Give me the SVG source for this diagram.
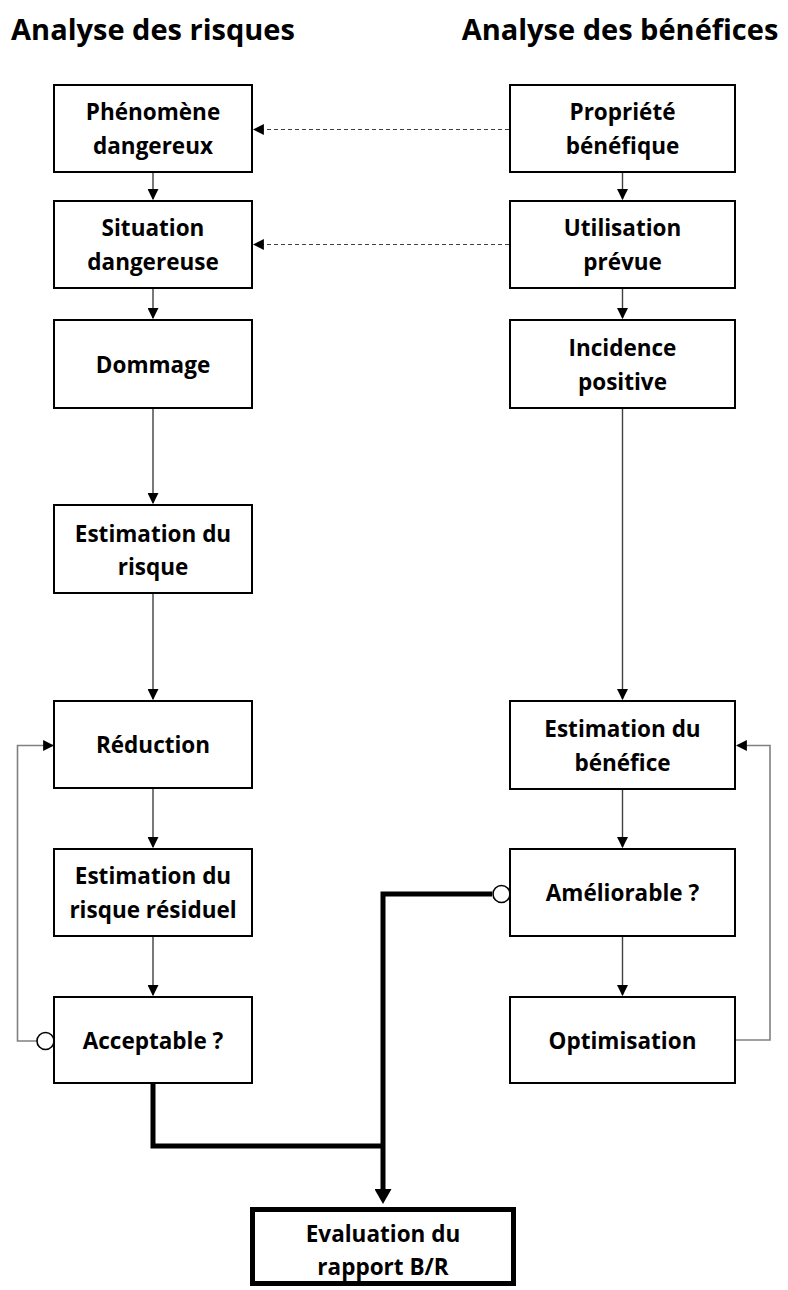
<svg xmlns="http://www.w3.org/2000/svg" width="788" height="1290" viewBox="0 0 788 1290">
<style>
.box{fill:#fff;stroke:#000;stroke-width:2}
.boxb{fill:#fff;stroke:#000;stroke-width:5}
.t{font-family:"Open Sans","Liberation Sans",sans-serif;font-weight:700;font-size:22.5px;fill:#000;text-anchor:middle}
.h{font-family:"Open Sans","Liberation Sans",sans-serif;font-weight:700;font-size:29px;fill:#000;text-anchor:middle}
.c{fill:none;stroke:#404040;stroke-width:1.4}
.loop{fill:none;stroke:#808080;stroke-width:1.6}
.dash{fill:none;stroke:#404040;stroke-width:1.2;stroke-dasharray:4 3}
.thick{fill:none;stroke:#000;stroke-width:5}
.circ{fill:#fff;stroke:#000;stroke-width:1.6}
</style>
<defs>
<marker id="a" viewBox="0 0 10 10" refX="9" refY="5" markerWidth="11" markerHeight="11" markerUnits="userSpaceOnUse" orient="auto">
<path d="M0,0 L10,5 L0,10 z" fill="#000"/>
</marker>
<marker id="ab" viewBox="0 0 15 17" refX="5" refY="8.5" markerWidth="15" markerHeight="17" markerUnits="userSpaceOnUse" orient="auto">
<path d="M0,0 L15,8.5 L0,17 z" fill="#000"/>
</marker>
</defs>
<rect width="788" height="1290" fill="#fff"/>
<g id="headers">
<text class="h" x="153" y="40">Analyse des risques</text>
<text class="h" x="620" y="40">Analyse des bénéfices</text>
</g>
<g id="connectors">
<line class="c" x1="153" y1="173" x2="153" y2="199" marker-end="url(#a)"/>
<line class="c" x1="153" y1="289" x2="153" y2="318" marker-end="url(#a)"/>
<line class="c" x1="153" y1="409" x2="153" y2="503" marker-end="url(#a)"/>
<line class="c" x1="153" y1="594" x2="153" y2="699" marker-end="url(#a)"/>
<line class="c" x1="153" y1="789" x2="153" y2="847" marker-end="url(#a)"/>
<line class="c" x1="153" y1="937" x2="153" y2="995" marker-end="url(#a)"/>
<line class="c" x1="622.5" y1="173" x2="622.5" y2="199" marker-end="url(#a)"/>
<line class="c" x1="622.5" y1="289" x2="622.5" y2="318" marker-end="url(#a)"/>
<line class="c" x1="622.5" y1="409" x2="622.5" y2="699" marker-end="url(#a)"/>
<line class="c" x1="622.5" y1="790" x2="622.5" y2="847" marker-end="url(#a)"/>
<line class="c" x1="622.5" y1="937" x2="622.5" y2="995" marker-end="url(#a)"/>
<line class="dash" x1="509" y1="129.5" x2="254" y2="129.5" marker-end="url(#a)"/>
<line class="dash" x1="509" y1="244.5" x2="254" y2="244.5" marker-end="url(#a)"/>
<path class="loop" d="M736,1040 H770 V745.5 H737" marker-end="url(#a)"/>
<path class="loop" d="M37,1041 H17.5 V745.5 H53" marker-end="url(#a)"/>
<path class="thick" d="M153,1083 V1146 H385"/>
<path class="thick" d="M492,894 H383 V1194" marker-end="url(#ab)"/>
<circle class="circ" cx="45.5" cy="1041" r="8.5"/>
<circle class="circ" cx="501.5" cy="894" r="8.5"/>
</g>
<g id="n1"><rect class="box" x="54" y="85" width="198" height="87"/><text class="t" x="153" y="120">Phénomène</text><text class="t" x="153" y="154">dangereux</text></g>
<g id="n2"><rect class="box" x="54" y="201" width="198" height="87"/><text class="t" x="153" y="236">Situation</text><text class="t" x="153" y="270">dangereuse</text></g>
<g id="n3"><rect class="box" x="54" y="320" width="198" height="88"/><text class="t" x="153" y="372.5">Dommage</text></g>
<g id="n4"><rect class="box" x="54" y="505" width="198" height="88"/><text class="t" x="153" y="541.5">Estimation du</text><text class="t" x="153" y="575">risque</text></g>
<g id="n5"><rect class="box" x="54" y="701" width="198" height="87"/><text class="t" x="153" y="753">Réduction</text></g>
<g id="n6"><rect class="box" x="54" y="849" width="198" height="87"/><text class="t" x="153" y="884">Estimation du</text><text class="t" x="153" y="918">risque résiduel</text></g>
<g id="n7"><rect class="box" x="54" y="997" width="198" height="86"/><text class="t" x="153" y="1048.5">Acceptable ?</text></g>
<g id="m1"><rect class="box" x="510" y="85" width="225" height="87"/><text class="t" x="622.5" y="120">Propriété</text><text class="t" x="622.5" y="154">bénéfique</text></g>
<g id="m2"><rect class="box" x="510" y="201" width="225" height="87"/><text class="t" x="622.5" y="236">Utilisation</text><text class="t" x="622.5" y="270">prévue</text></g>
<g id="m3"><rect class="box" x="510" y="320" width="225" height="88"/><text class="t" x="622.5" y="356">Incidence</text><text class="t" x="622.5" y="390">positive</text></g>
<g id="m4"><rect class="box" x="510" y="701" width="225" height="88"/><text class="t" x="622.5" y="737">Estimation du</text><text class="t" x="622.5" y="771">bénéfice</text></g>
<g id="m5"><rect class="box" x="510" y="849" width="225" height="87"/><text class="t" x="622.5" y="901">Améliorable ?</text></g>
<g id="m6"><rect class="box" x="510" y="997" width="225" height="86"/><text class="t" x="622.5" y="1048.5">Optimisation</text></g>
<g id="eval"><rect class="boxb" x="252.5" y="1209.5" width="261" height="74"/><text class="t" x="383" y="1242">Evaluation du</text><text class="t" x="383" y="1275">rapport B/R</text></g>
</svg>
